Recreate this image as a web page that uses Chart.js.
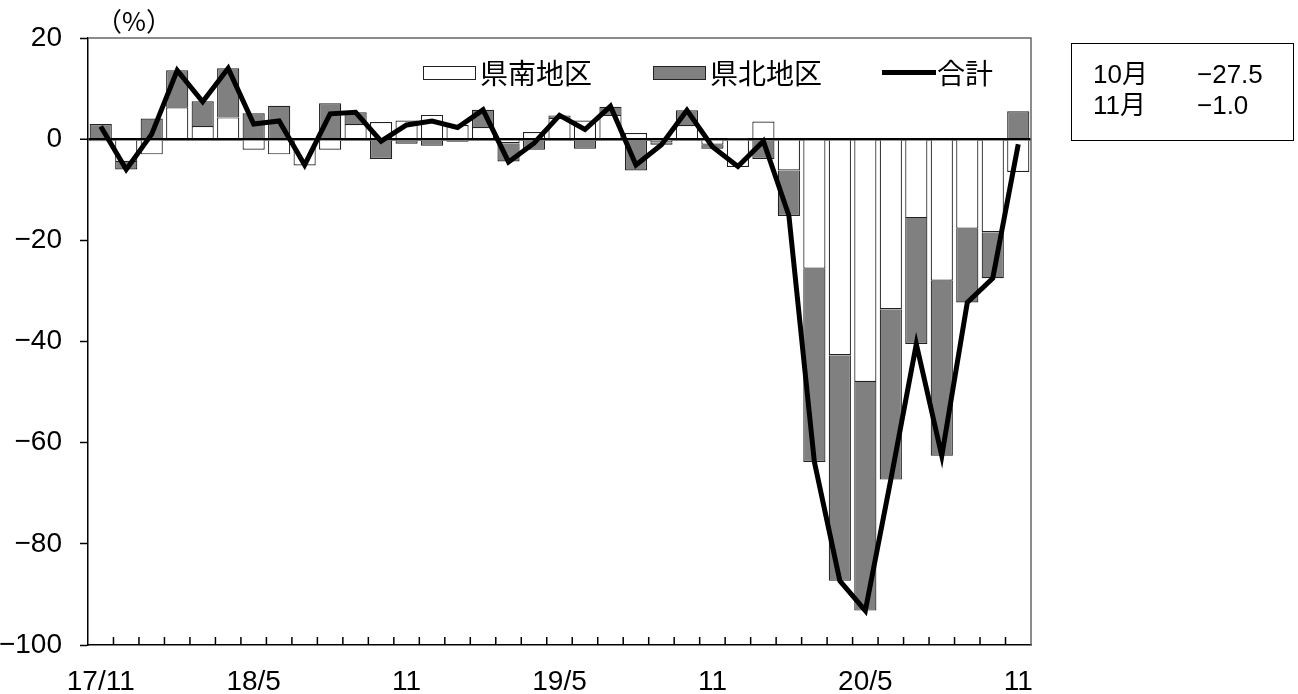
<!DOCTYPE html>
<html>
<head>
<meta charset="utf-8">
<title>県南・県北地区 寄与度</title>
<script src="https://cdn.jsdelivr.net/npm/chart.js"></script>
<style>
  body { margin: 0; background: #fff; font-family: "Noto Sans CJK JP", sans-serif; color: #000; }
  #wrap { position: relative; width: 1298px; height: 694px; }
  .unit { position: absolute; left: 96px; top: 1px; font-size: 26px; }
  .lgtext { position: absolute; top: 54px; font-size: 28px; letter-spacing: 0px; line-height: 36px; }
  .lgbox { position: absolute; top: 66px; width: 51px; height: 12px; border: 1px solid #222; }
  .lgline { position: absolute; top: 70px; width: 54px; height: 5px; background: #000; }
  .note { position: absolute; left: 1071px; top: 43px; width: 221px; height: 96px; border: 1.5px solid #000;
          font-family: "Liberation Sans", "Noto Sans CJK JP", sans-serif; font-size: 26px; }
  .note div { position: absolute; line-height: 31px; }
</style>
</head>
<body>
<div id="wrap">
  <canvas id="chart" width="1298" height="694"></canvas>
  <div class="unit">（%）</div>
  <div id="legend"></div>
  <div class="note" id="note"></div>
</div>

<script>
// 17/11 ～ 20/11 の月次
const months = ['17/11','17/12','18/1','18/2','18/3','18/4','18/5','18/6','18/7','18/8','18/9','18/10',
  '18/11','18/12','19/1','19/2','19/3','19/4','19/5','19/6','19/7','19/8','19/9','19/10',
  '19/11','19/12','20/1','20/2','20/3','20/4','20/5','20/6','20/7','20/8','20/9','20/10','20/11'];
const tickLabels = ['17/11', '18/5', '11', '19/5', '11', '20/5', '11'];  // 6か月ごと

const kennan = [-0.4, -4.5, -3.0, 6.3, 2.6, 4.3, -2.1, -3.0, -5.2, -2.1, 3.0, 3.4,
  3.7, 4.8, 2.8, 2.4, -0.8, 1.4, 4.2, 3.7, 4.8, 1.2, -0.6, 2.8,
  -1.1, -5.5, 3.5, -6.2, -25.6, -42.7, -48.0, -33.6, -15.6, -28.0, -17.7, -18.4, -6.5];
const kenpoku = [3.0, -1.5, 4.1, 7.3, 4.9, 9.7, 5.1, 6.6, 0.2, 7.1, 2.3, -3.9,
  -0.9, -1.3, -0.5, 3.4, -3.6, -2.1, 0.5, -1.9, 1.6, -6.2, -0.5, 2.9,
  -0.8, 0.1, -3.9, -9.0, -38.2, -44.6, -45.2, -33.7, -24.9, -34.6, -14.6, -9.1, 5.5];
const goukei = [2.5, -6.0, 1.0, 13.6, 7.4, 14.0, 3.0, 3.6, -5.1, 5.0, 5.3, -0.4,
  2.8, 3.6, 2.3, 5.8, -4.5, -0.8, 4.7, 1.9, 6.5, -5.1, -1.1, 5.7,
  -1.5, -5.4, -0.4, -15.1, -63.8, -87.3, -93.2, -67.3, -40.5, -62.6, -32.3, -27.5, -1.0];

const minus = (v, d) => {
  const s = d === undefined ? String(Math.abs(v)) : Math.abs(v).toFixed(d);
  return v < 0 ? '\u2212' + s : s;
};
const numFont = { family: '"Liberation Sans", sans-serif', size: 28 };

// 凡例（グラフ内の上部）
document.getElementById('legend').innerHTML = `
  <div class="lgbox" style="left:423px;background:#fff"></div>
  <div class="lgtext" style="left:480px">県南地区</div>
  <div class="lgbox" style="left:653px;background:#808080"></div>
  <div class="lgtext" style="left:710px">県北地区</div>
  <div class="lgline" style="left:882px"></div>
  <div class="lgtext" style="left:937px">合計</div>`;

// 右上の直近2か月
const n = goukei.length;
document.getElementById('note').innerHTML = `
  <div style="left:21px;top:15px">10月</div><div style="left:125px;top:15px">${minus(goukei[n - 2], 1)}</div>
  <div style="left:21px;top:46px">11月</div><div style="left:125px;top:46px">${minus(goukei[n - 1], 1)}</div>`;

const frame = {
  id: 'frame',
  beforeDatasetsDraw(chart) {
    const { ctx, chartArea: a } = chart;
    const x = chart.scales.x;
    const half = (x.getPixelForValue(1) - x.getPixelForValue(0)) / 2;
    ctx.save();
    ctx.strokeStyle = '#666';
    ctx.lineWidth = 1.5;
    ctx.beginPath();
    ctx.moveTo(a.left, a.top);
    ctx.lineTo(a.right, a.top);
    ctx.lineTo(a.right, a.bottom);
    ctx.stroke();
    // 横軸の内向き目盛
    ctx.strokeStyle = '#000';
    ctx.beginPath();
    for (let i = 1; i < months.length; i++) {
      const px = x.getPixelForValue(i) - half;
      ctx.moveTo(px, a.bottom);
      ctx.lineTo(px, a.bottom - 8);
    }
    ctx.stroke();
    ctx.restore();
  }
};

new Chart(document.getElementById('chart'), {
  data: {
    labels: months,
    datasets: [
      { type: 'line', label: '合計', data: goukei, borderColor: '#000', borderWidth: 5,
        pointRadius: 0, tension: 0, stack: 'total', order: 0 },
      { type: 'bar', label: '県南地区', data: kennan, backgroundColor: '#fff', borderColor: '#222',
        borderWidth: 1.2, stack: 'area', order: 1 },
      { type: 'bar', label: '県北地区', data: kenpoku, backgroundColor: '#808080', borderColor: '#222',
        borderWidth: 1.2, stack: 'area', order: 1 }
    ]
  },
  options: {
    responsive: false,
    animation: false,
    devicePixelRatio: 1,
    layout: { padding: { top: 38, right: 267, left: 0, bottom: 0 } },
    categoryPercentage: 1.0,
    barPercentage: 0.87,
    plugins: { legend: { display: false }, tooltip: { enabled: false } },
    scales: {
      x: {
        stacked: true,
        offset: true,
        grid: { display: false, drawTicks: false },
        border: { color: '#000', width: 1.5 },
        ticks: {
          autoSkip: false, maxRotation: 0, padding: 20, color: '#000', font: numFont,
          callback: (v, i) => (i % 6 === 0 ? tickLabels[i / 6] : '')
        },
        afterFit: s => { s.height = 49; }
      },
      y: {
        stacked: true,
        min: -100, max: 20,
        ticks: { stepSize: 20, padding: 18, color: '#000', font: numFont, callback: v => minus(v) },
        grid: {
          color: c => (c.tick && c.tick.value === 0 ? '#000' : 'rgba(0,0,0,0)'),
          lineWidth: c => (c.tick && c.tick.value === 0 ? 2.5 : 1),
          tickColor: '#000', tickLength: 8, tickWidth: 1.5
        },
        border: { color: '#000', width: 1.5 },
        afterFit: s => { s.width = 88; }
      }
    }
  },
  plugins: [frame]
});
</script>
</body>
</html>
